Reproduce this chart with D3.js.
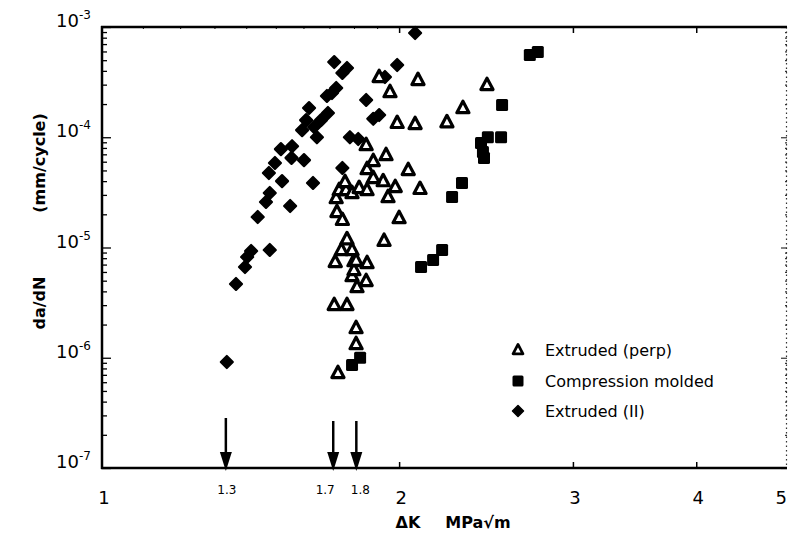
<!DOCTYPE html>
<html>
<head>
<meta charset="utf-8">
<script src="https://cdn.jsdelivr.net/npm/d3@7"></script>
<style>
  html, body { margin: 0; padding: 0; background: #fff; }
  svg { display: block; }
</style>
</head>
<body>
<svg id="chart" width="788" height="550"></svg>
<script>
// ---------------- DATA ----------------
// Extruded (perp) : open triangles  [ΔK (MPa√m), da/dN (mm/cycle)]
const extrudedPerpK = [1.734,1.809,1.809,1.719,1.771,1.813,1.852,1.792,1.800,1.723,1.800,1.856,1.748,1.792,1.771,1.809,1.931,2.000,1.730,1.752,1.727,1.739,1.767,1.792,1.822,1.856,1.927,1.982,1.949,2.100,1.883,1.856,1.883,1.940,2.043,1.852,1.991,2.076,2.236,2.321,2.455,1.909,1.958,2.090,1.763];
const extrudedPerpR = [7.28e-7,1.33e-6,1.86e-6,3.01e-6,3.01e-6,4.38e-6,4.97e-6,5.51e-6,6.25e-6,7.39e-6,7.54e-6,7.23e-6,9.49e-6,9.49e-6,1.19e-5,7.6e-6,1.15e-5,1.85e-5,2.10e-5,1.78e-5,2.81e-5,3.32e-5,3.32e-5,3.12e-5,3.47e-5,3.32e-5,4.0e-5,3.54e-5,2.87e-5,3.40e-5,4.27e-5,5.15e-5,6.09e-5,6.90e-5,5.05e-5,8.5e-5,1.35e-4,1.32e-4,1.37e-4,1.84e-4,2.98e-4,3.52e-4,2.57e-4,3.31e-4,3.93e-5];

// Compression molded : filled squares
const compMoldedK = [1.792,1.826,2.105,2.165,2.211,2.263,2.316,2.421,2.432,2.438,2.460,2.537,2.543,2.713,2.764];
const compMoldedR = [8.6e-7,1.0e-6,6.65e-6,7.7e-6,9.49e-6,2.87e-5,3.85e-5,8.87e-5,7.35e-5,6.5e-5,1.0e-4,1.0e-4,1.96e-4,5.57e-4,5.93e-4];

// Extruded (II) : filled diamonds
const extrudedParK = [1.338,1.367,1.396,1.403,1.416,1.479,1.438,1.466,1.479,1.551,1.522,1.476,1.497,1.518,1.558,1.556,1.602,1.636,1.595,1.610,1.621,1.640,1.651,1.694,1.667,1.690,1.727,1.710,1.719,1.752,1.771,1.752,1.852,1.883,1.909,1.783,1.818,1.935,1.991,2.076];
const extrudedParR = [9.15e-7,4.67e-6,6.65e-6,8.2e-6,9.3e-6,9.5e-6,1.89e-5,2.59e-5,3.12e-5,2.38e-5,4.0e-5,4.74e-5,5.84e-5,7.8e-5,8.3e-5,6.5e-5,6.2e-5,3.85e-5,1.16e-4,1.43e-4,1.84e-4,1.24e-4,1.0e-4,1.66e-4,1.43e-4,2.37e-4,2.8e-4,2.52e-4,4.81e-4,3.83e-4,4.25e-4,5.26e-5,2.18e-4,1.47e-4,1.59e-4,1.0e-4,9.64e-5,3.52e-4,4.52e-4,8.82e-4];

// Threshold arrows (positions as drawn in the figure) and their labels
const thresholdK = [1.335, 1.715, 1.81];
const thresholdLabels = ["1.3", "1.7", "1.8"];

// Axis ticks
const xTickValues = [1, 2, 3, 4, 5];
const yTickExponents = [-3, -4, -5, -6, -7];

const seriesNames = ["Extruded (perp)", "Compression molded", "Extruded (II)"];

// ---------------- LAYOUT ----------------
const svg = d3.select("#chart");
const pLeft = 102, pTop = 27, pBottom = 468, pRight = 787;
const x = d3.scaleLog().domain([1, 5]).range([pLeft, pLeft + 987 * Math.log10(5)]);
const y = d3.scaleLog().domain([1e-7, 1e-3]).range([pBottom, pTop]);
const font = "'DejaVu Sans', Verdana, sans-serif";
const isMajor = d => Math.abs(Math.log10(d) - Math.round(Math.log10(d))) < 1e-6;
const yMinorVals = d3.range(-7, -3).flatMap(e => d3.range(1, 10).map(m => m * Math.pow(10, e))).concat([1e-3]);

// ---------------- AXES / FRAME ----------------
const gl = svg.append("g").attr("transform", `translate(${pLeft},0)`)
  .call(d3.axisRight(y).tickValues(yMinorVals).tickSize(5).tickFormat(""));
gl.select(".domain").remove();
gl.selectAll(".tick line").attr("stroke", "#000").attr("stroke-width", 1.3)
  .attr("x2", d => isMajor(d) ? 9 : 5);

const gr = svg.append("g").attr("transform", `translate(${pRight},0)`)
  .call(d3.axisLeft(y).tickValues(yMinorVals).tickSize(3).tickFormat(""));
gr.select(".domain").remove();
gr.selectAll(".tick line").attr("stroke", "#333").attr("stroke-width", 1.2)
  .attr("x2", d => isMajor(d) ? -6 : -2);
svg.append("line").attr("x1", pRight - 0.5).attr("x2", pRight - 0.5).attr("y1", pTop).attr("y2", pBottom)
  .attr("stroke", "#333").attr("stroke-width", 1.2).attr("stroke-dasharray", "1.5,3");

const gb = svg.append("g").attr("transform", `translate(0,${pBottom})`)
  .call(d3.axisTop(x).tickValues([2, 3, 4]).tickSize(6).tickFormat(""));
gb.select(".domain").remove();
gb.selectAll(".tick line").attr("stroke", "#000").attr("stroke-width", 1.5);

const gt = svg.append("g").attr("transform", `translate(0,${pTop})`)
  .call(d3.axisBottom(x).tickValues([2, 3, 4]).tickSize(6).tickFormat(""));
gt.select(".domain").remove();
gt.selectAll(".tick line").attr("stroke", "#000").attr("stroke-width", 1.5);
const gtm = svg.append("g").attr("transform", `translate(0,${pTop})`)
  .call(d3.axisBottom(x).tickValues(d3.range(1.1, 2, 0.1)).tickSize(2).tickFormat(""));
gtm.select(".domain").remove();
gtm.selectAll(".tick line").attr("stroke", "#000").attr("stroke-width", 1);

svg.append("line").attr("x1", pLeft).attr("x2", pLeft).attr("y1", pTop - 1).attr("y2", pBottom + 1)
  .attr("stroke", "#000").attr("stroke-width", 2.5);
svg.append("line").attr("x1", pLeft - 1).attr("x2", pRight).attr("y1", pTop).attr("y2", pTop)
  .attr("stroke", "#000").attr("stroke-width", 2.5);
svg.append("line").attr("x1", pLeft - 1).attr("x2", pRight).attr("y1", pBottom).attr("y2", pBottom)
  .attr("stroke", "#000").attr("stroke-width", 2.5);

// x tick labels (last one kept inside the picture)
svg.append("g").selectAll("text").data(xTickValues).join("text")
  .attr("x", d => Math.min(x(d) + 2, 787))
  .attr("y", 504)
  .attr("text-anchor", d => x(d) + 8 > 788 ? "end" : "middle")
  .attr("font-family", font).attr("font-size", 18)
  .text(d => d);

// y tick labels 10^n
const yl = svg.append("g").selectAll("text").data(yTickExponents).join("text")
  .attr("x", 56).attr("y", d => y(Math.pow(10, d)) + 0)
  .attr("font-family", font).attr("font-size", 18);
yl.append("tspan").text("10");
yl.append("tspan").attr("dy", -8).attr("font-size", 12).text(d => String(d));

// axis titles
svg.append("text").attr("transform", "translate(45,303) rotate(-90)")
  .attr("text-anchor", "middle").attr("font-family", font).attr("font-weight", "bold")
  .attr("font-size", 16).text("da/dN");
svg.append("text").attr("transform", "translate(45,163) rotate(-90)")
  .attr("text-anchor", "middle").attr("font-family", font).attr("font-weight", "bold")
  .attr("font-size", 16).text("(mm/cycle)");
svg.append("text").attr("x", 408).attr("y", 528)
  .attr("text-anchor", "middle").attr("font-family", font).attr("font-weight", "bold")
  .attr("font-size", 16).text("ΔK");
svg.append("text").attr("x", 478).attr("y", 528)
  .attr("text-anchor", "middle").attr("font-family", font).attr("font-weight", "bold")
  .attr("font-size", 16).text("MPa√m");

// ---------------- THRESHOLD ARROWS ----------------
const labelShift = [1, -8, 4];
const ga = svg.append("g");
thresholdK.forEach((k, i) => {
  const xx = x(k);
  ga.append("line").attr("x1", xx).attr("x2", xx).attr("y1", i === 0 ? 418 : 421).attr("y2", 455)
    .attr("stroke", "#000").attr("stroke-width", 2.5);
  ga.append("path")
    .attr("d", `M${xx - 6},452 L${xx + 6},452 L${xx},471 Z`)
    .attr("fill", "#000");
  ga.append("text").attr("x", xx + labelShift[i]).attr("y", 494)
    .attr("text-anchor", "middle").attr("font-family", font).attr("font-size", 12)
    .text(thresholdLabels[i]);
});

// ---------------- MARKERS ----------------
const triPath = (cx, cy, s) => `M${cx},${cy - s * 0.62} L${cx + s * 0.55},${cy + s * 0.42} L${cx - s * 0.55},${cy + s * 0.42} Z`;
const diaPath = (cx, cy, s) => `M${cx},${cy - s} L${cx + s},${cy} L${cx},${cy + s} L${cx - s},${cy} Z`;

const gm = svg.append("g");
gm.selectAll("path.dia").data(d3.zip(extrudedParK, extrudedParR)).join("path")
  .attr("class", "dia")
  .attr("d", d => diaPath(x(d[0]), y(d[1]), 6))
  .attr("fill", "#000").attr("stroke", "#000").attr("stroke-width", 2.2).attr("stroke-linejoin", "round");
gm.selectAll("rect.sq").data(d3.zip(compMoldedK, compMoldedR)).join("rect")
  .attr("class", "sq")
  .attr("x", d => x(d[0]) - 6).attr("y", d => y(d[1]) - 6)
  .attr("width", 12).attr("height", 12).attr("rx", 1.5)
  .attr("fill", "#000");
gm.selectAll("path.tri").data(d3.zip(extrudedPerpK, extrudedPerpR)).join("path")
  .attr("class", "tri")
  .attr("d", d => triPath(x(d[0]), y(d[1]), 11))
  .attr("fill", "#fff").attr("stroke", "#000").attr("stroke-width", 3.2).attr("stroke-linejoin", "round");

// ---------------- LEGEND ----------------
const legY = [350, 381, 411];
const lg = svg.append("g");
seriesNames.forEach((name, i) => {
  const cx = 518, cy = legY[i];
  if (i === 0) {
    lg.append("path").attr("d", triPath(cx, cy, 9)).attr("fill", "#fff")
      .attr("stroke", "#000").attr("stroke-width", 2.8).attr("stroke-linejoin", "round");
  } else if (i === 1) {
    lg.append("rect").attr("x", cx - 5.5).attr("y", cy - 5.5).attr("width", 11).attr("height", 11)
      .attr("rx", 1.5).attr("fill", "#000");
  } else {
    lg.append("path").attr("d", diaPath(cx, cy, 5.5)).attr("fill", "#000")
      .attr("stroke", "#000").attr("stroke-width", 1.5).attr("stroke-linejoin", "round");
  }
  lg.append("text").attr("x", 545).attr("y", cy + 6)
    .attr("font-family", font).attr("font-size", 16).text(name);
});
</script>
</body>
</html>
